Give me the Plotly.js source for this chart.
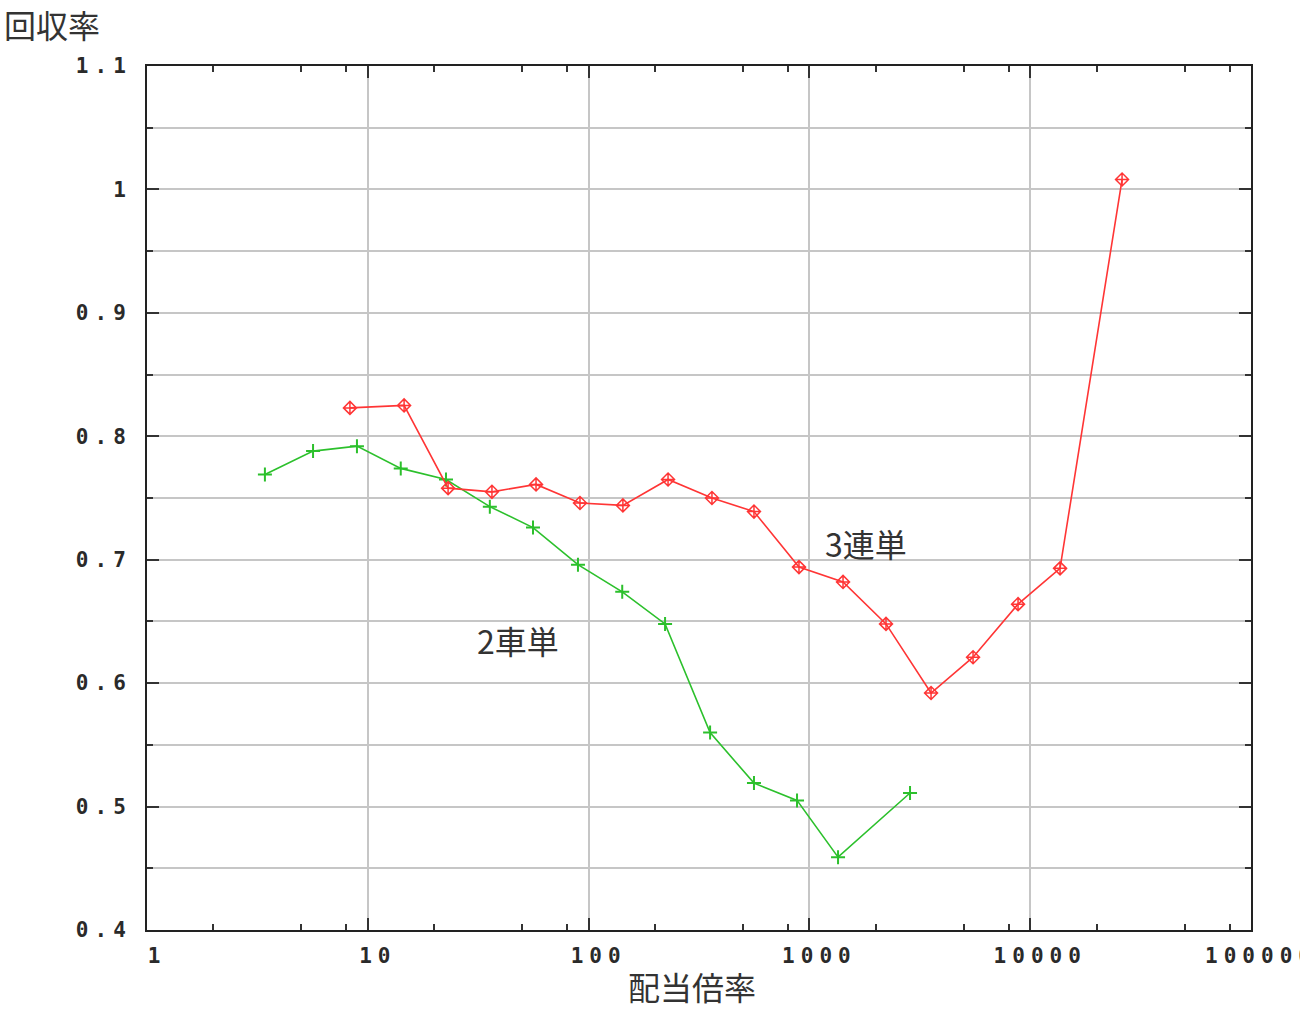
<!DOCTYPE html>
<html>
<head>
<meta charset="utf-8">
<script src="https://cdn.plot.ly/plotly-3.0.1.min.js"></script>
<style>
  html, body { margin: 0; padding: 0; background: #fff; }
  .xtick text, .ytick text { letter-spacing: 6px; }
</style>
</head>
<body>
<div id="plot1"></div>
<script>
// 配当倍率 vs 回収率
var odds2 = [3.42, 5.65, 8.93, 14.1, 22.6, 35.7, 56, 89.5, 142, 222, 355, 561, 879, 1348, 2856];
var ret2 = [0.769, 0.788, 0.792, 0.774, 0.765, 0.743, 0.726, 0.696, 0.674, 0.648, 0.560, 0.519, 0.505, 0.459, 0.511];

var odds3 = [8.3, 14.6, 23.1, 36.5, 57.8, 91.4, 143, 229, 362, 561, 897, 1420, 2223, 3556, 5510, 8810, 13650, 26060];
var ret3 = [0.823, 0.825, 0.758, 0.755, 0.761, 0.746, 0.744, 0.765, 0.750, 0.739, 0.694, 0.682, 0.648, 0.592, 0.621, 0.664, 0.693, 1.008];

var xTickVals = [1, 10, 100, 1000, 10000, 100000];
var xTickText = ['1', '10', '100', '1000', '10000', '100000'];
var xMinorVals = [2, 5, 8, 20, 50, 80, 200, 500, 800, 2000, 5000, 8000, 20000, 50000, 80000];

var yTickVals = [0.4, 0.5, 0.6, 0.7, 0.8, 0.9, 1.0, 1.1];
var yTickText = ['0.4', '0.5', '0.6', '0.7', '0.8', '0.9', '1', '1.1'];

var line2 = {
	x: odds2,
	y: ret2,
	name: '2車単',
	mode: 'lines+markers',
	line: { color: '#2cc02c', width: 1.6 },
	marker: {
		symbol: 'cross-thin-open',
		size: 10,
		color: '#2cc02c',
		line: { color: '#2cc02c', width: 2 }
	}
};

var line3 = {
	x: odds3,
	y: ret3,
	name: '3連単',
	mode: 'lines+markers',
	line: { color: '#ff3535', width: 1.6 },
	marker: {
		symbol: 'diamond-cross-open',
		size: 10,
		color: '#ff3535',
		line: { color: '#ff3535', width: 1.5 }
	}
};

var tickFont = { family: 'DejaVu Sans Mono, monospace', size: 21, color: '#2a2a2a', weight: 'bold' };
var cjk = 'Noto Sans CJK JP, sans-serif';

var layout = {
	autosize: false,
	width: 1300,
	height: 1011,
	showlegend: false,
	hovermode: false,
	paper_bgcolor: '#ffffff',
	plot_bgcolor: '#ffffff',
	margin: { l: 147, r: 49, t: 66, b: 81 },
	xaxis: {
		type: 'log',
		range: [0, 5],
		tickmode: 'array',
		tickvals: xTickVals,
		ticktext: xTickText,
		ticks: 'inside',
		ticklen: 12,
		tickwidth: 2,
		tickcolor: '#333',
		showgrid: true,
		gridcolor: '#c6c6c6',
		gridwidth: 2,
		showline: true,
		linecolor: '#222',
		linewidth: 2,
		mirror: 'ticks',
		zeroline: false,
		tickfont: tickFont,
		ticklabelstandoff: 6,
		ticklabelshift: 10,
		ticklabeloverflow: 'allow',
		minor: {
			tickmode: 'array',
			tickvals: xMinorVals,
			ticks: 'inside',
			ticklen: 6,
			tickwidth: 2,
			tickcolor: '#333',
			showgrid: false
		}
	},
	yaxis: {
		range: [0.4, 1.1],
		tickmode: 'array',
		tickvals: yTickVals,
		ticktext: yTickText,
		ticks: 'inside',
		ticklen: 12,
		tickwidth: 2,
		tickcolor: '#333',
		showgrid: true,
		gridcolor: '#c6c6c6',
		gridwidth: 2,
		showline: true,
		linecolor: '#222',
		linewidth: 2,
		mirror: 'ticks',
		zeroline: false,
		tickfont: tickFont,
		ticklabelstandoff: 9,
		ticklabeloverflow: 'allow',
		minor: {
			dtick: 0.05,
			tick0: 0.4,
			ticks: 'inside',
			ticklen: 6,
			tickwidth: 2,
			tickcolor: '#333',
			showgrid: true,
			gridcolor: '#c6c6c6',
			gridwidth: 2
		}
	},
	annotations: [
		{
			text: '回収率', xref: 'paper', yref: 'paper',
			x: -0.131, y: 1.049, xanchor: 'left', yanchor: 'middle',
			showarrow: false, font: { family: cjk, size: 32, color: '#333' }
		},
		{
			text: '配当倍率', xref: 'paper', yref: 'paper',
			x: 0.4937, y: -0.0652, xanchor: 'center', yanchor: 'middle',
			showarrow: false, font: { family: cjk, size: 32, color: '#333' }
		},
		{
			text: '2車単', x: 1.68, y: 0.635,
			showarrow: false, font: { family: cjk, size: 32, color: '#333' }
		},
		{
			text: '3連単', x: 3.256, y: 0.7135,
			showarrow: false, font: { family: cjk, size: 32, color: '#333' }
		}
	]
};

var data = [line2, line3];

Plotly.newPlot('plot1', data, layout, { displayModeBar: false, staticPlot: true });
</script>
</body>
</html>
